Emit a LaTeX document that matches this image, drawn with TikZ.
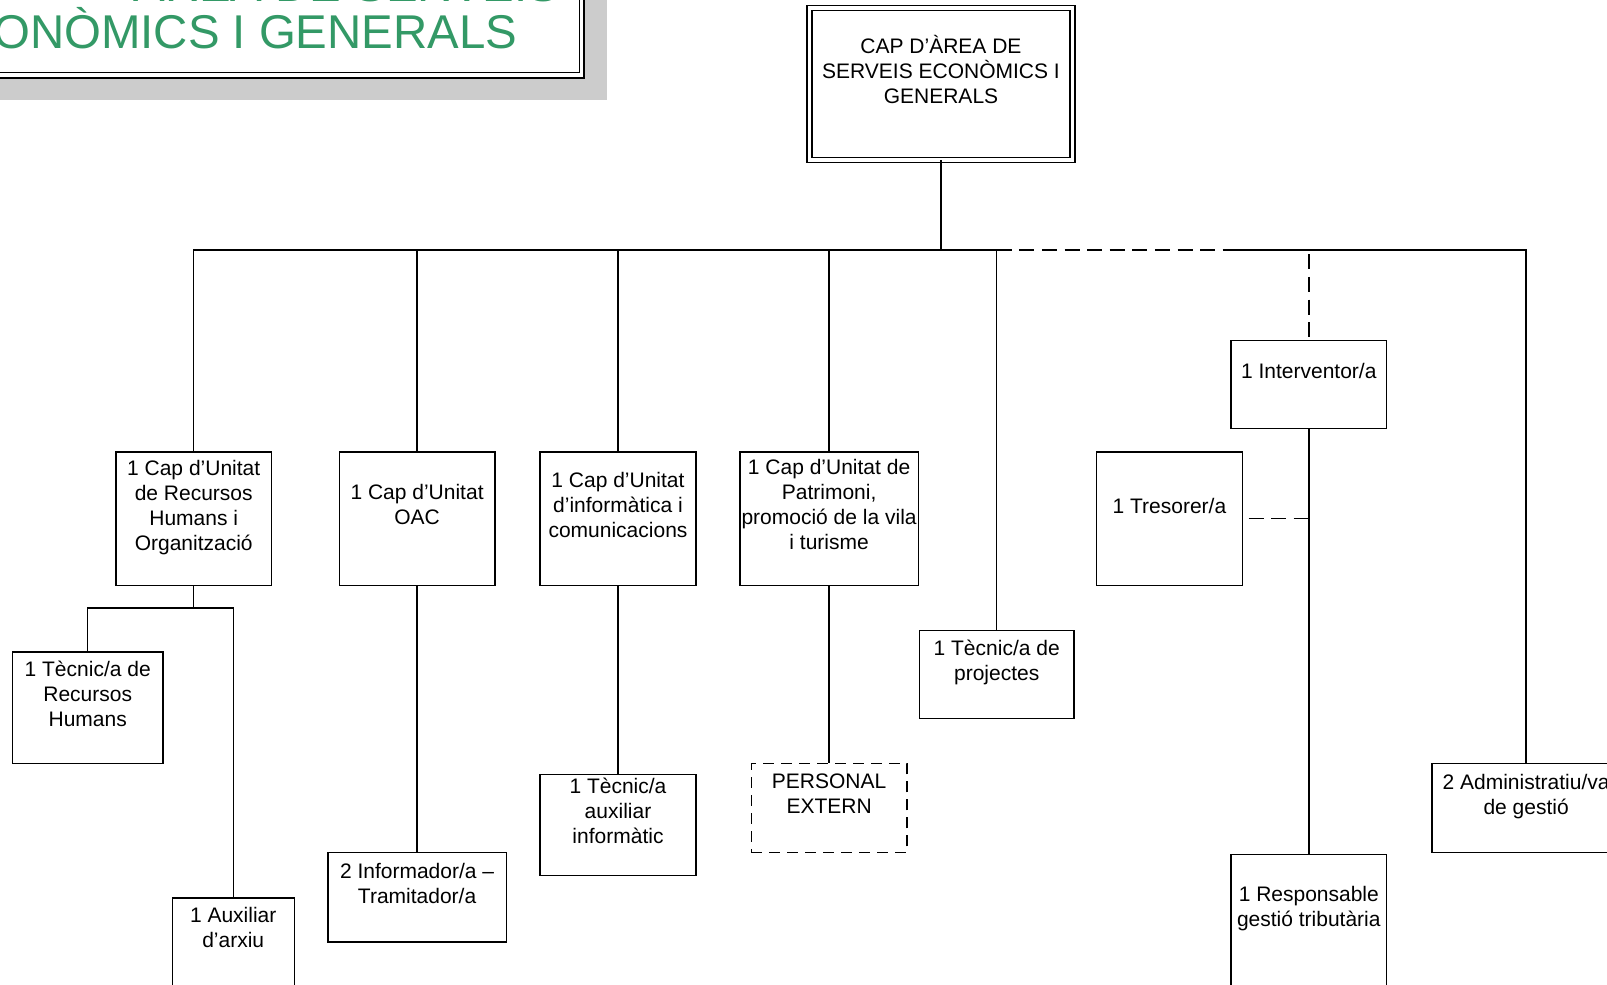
\documentclass[tikz,border=0pt]{standalone}
\usepackage{fontspec}
\setmainfont{Liberation Sans}
\usetikzlibrary{positioning}
\definecolor{titleGreen}{HTML}{339966}
\definecolor{shadowGray}{HTML}{CCCCCC}

\begin{document}
\begin{tikzpicture}[x=0.5pt, y=-0.5pt, line width=0.7pt,
  unit/.style 2 args={draw, minimum width=#1, minimum height=#2, inner sep=0pt},
  ext/.style 2 args={unit={#1}{#2}, dash pattern=on 5.5pt off 3.5pt},
  txt/.style={align=center, inner sep=0pt, font=\fontsize{10.5}{12.5}\selectfont,
    execute at begin node=\strut, execute at end node=\strut},
  ttl/.style={titleGreen, anchor=base east, inner sep=0pt, font=\fontsize{23.7}{23.7}\selectfont},
  dlink/.style={dash pattern=on 7.5pt off 3.8pt}]
\useasboundingbox (0,0) rectangle (1607,985);
\clip (0,0) rectangle (1607,985);
% --- title, cut by the page edge ---
\fill[shadowGray] (-30,-30) rectangle (607,100);
\fill[white] (-60,-60) rectangle (584,77.7);
\draw[line width=1pt] (-60,-60) rectangle (584,77.7);
\draw[line width=0.5pt] (-60,-60) rectangle (579.3,72.3);
\node[ttl] (title1) at (560,1.3) {ÀREA DE SERVEIS};
\node[ttl] (title2) at (518,48) {ECONÒMICS I GENERALS};
% --- head of the area ---
\node[unit={131.5pt}{76pt}, double, double distance=1.8pt] (cap) at (941,83.7) {};
\node[txt] (cap-t) at ([yshift=5.2pt]cap.center) {CAP D’ÀREA DE\\SERVEIS ECONÒMICS I\\GENERALS};
% --- units ---
\node[unit={77.9pt}{66.6pt}] (rrhh) at (193.7,518.6) {};
\node[txt] (rrhh-t) at ([yshift=4.8pt]rrhh.center) {1 Cap d’Unitat\\de Recursos\\Humans i\\Organització};
\node[unit={77.9pt}{66.6pt}] (oac) at (417.1,518.6) {};
\node[txt] (oac-t) at ([yshift=5.2pt]oac.center) {1 Cap d’Unitat\\OAC};
\node[unit={77.9pt}{66.6pt}] (info) at (618,518.6) {};
\node[txt] (info-t) at ([yshift=5.2pt]info.center) {1 Cap d’Unitat\\d’informàtica i\\comunicacions};
\node[unit={89.15pt}{66.6pt}] (patri) at (829.1,518.6) {};
\node[txt] (patri-t) at ([yshift=5.2pt]patri.center) {1 Cap d’Unitat de\\Patrimoni,\\promoció de la vila\\i turisme};
\node[unit={77.4pt}{44.1pt}] (tproj) at (996.7,674.4) {};
\node[txt] (tproj-t) at ([yshift=5.2pt]tproj.center) {1 Tècnic/a de\\projectes};
\node[unit={77.9pt}{44.05pt}] (interv) at (1308.8,384.3) {};
\node[txt] (interv-t) at ([yshift=5.2pt]interv.center) {1 Interventor/a};
\node[unit={72.8pt}{66.6pt}] (tresor) at (1169.4,518.6) {};
\node[txt] (tresor-t) at ([yshift=5.2pt]tresor.center) {1 Tresorer/a};
\node[unit={77.9pt}{66.6pt}] (resp) at (1308.8,921) {};
\node[txt] (resp-t) at ([yshift=5.2pt]resp.center) {1 Responsable\\gestió tributària};
\node[unit={94.3pt}{44.5pt}] (admin) at (1526.1,808.1) {};
\node[txt] (admin-t) at ([yshift=5.2pt]admin.center) {2 Administratiu/va\\de gestió};
% --- staff below the units ---
\node[unit={75.35pt}{55.9pt}] (trrhh) at (87.7,707.7) {};
\node[txt] (trrhh-t) at ([yshift=5.2pt]trrhh.center) {1 Tècnic/a de\\Recursos\\Humans};
\node[unit={61pt}{44.2pt}] (aux) at (233.2,942) {};
\node[txt] (aux-t) at ([yshift=5.2pt]aux.center) {1 Auxiliar\\d’arxiu};
\node[unit={89.15pt}{44.6pt}] (inform) at (417.1,897.3) {};
\node[txt] (inform-t) at ([yshift=5.2pt]inform.center) {2 Informador/a –\\Tramitador/a};
\node[unit={77.9pt}{50.25pt}] (taux) at (618,825) {};
\node[txt] (taux-t) at ([yshift=5.2pt]taux.center) {1 Tècnic/a\\auxiliar\\informàtic};
\node[ext={77.85pt}{44.55pt}] (pext) at (829.1,808.2) {};
\node[txt] (pext-t) at ([yshift=5.2pt]pext.center) {PERSONAL\\EXTERN};
% --- connectors ---
\coordinate (bus) at (941,250);
\coordinate (busr) at (1230,250);
\coordinate (sub) at (193.7,607.8);
\draw (cap.south) -- (bus);
\draw (bus) -| (rrhh.north);
\draw (bus) -| (oac.north);
\draw (bus) -| (info.north);
\draw (bus) -| (patri.north);
\draw (bus) -| (tproj.north);
\draw[dlink] (bus -| tproj.north) -| (interv.north);
\draw (busr) -| (admin.north);
\draw[dlink, dash phase=8.5pt] (tresor.east) -- (tresor.east -| interv.south);
\draw (interv.south) -- (resp.north);
\draw (rrhh.south) -- (sub);
\draw (sub) -| (trrhh.north);
\draw (sub) -| (aux.north);
\draw (oac.south) -- (inform.north);
\draw (info.south) -- (taux.north);
\draw (patri.south) -- (pext.north);
\end{tikzpicture}
\end{document}
